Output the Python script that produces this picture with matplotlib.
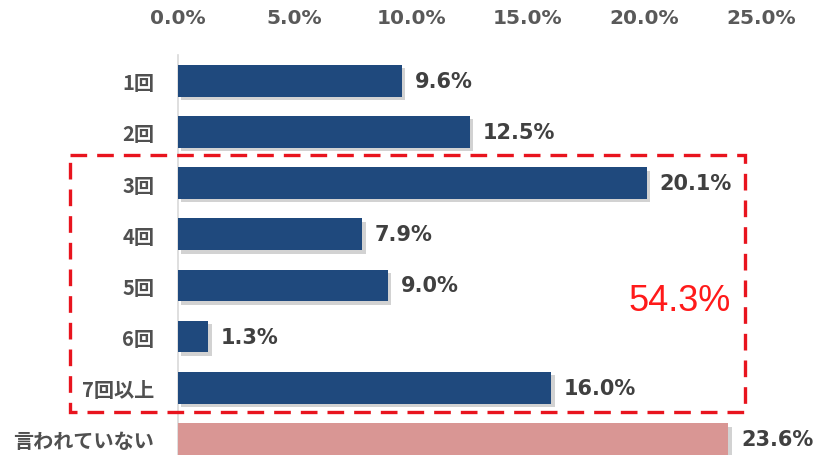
import matplotlib
matplotlib.use("Agg")
import matplotlib.pyplot as plt
import matplotlib.patheffects as pe
from matplotlib.patches import Rectangle

categories = ["1回", "2回", "3回", "4回", "5回", "6回", "7回以上", "言われていない"]
values = [9.6, 12.5, 20.1, 7.9, 9.0, 1.3, 16.0, 23.6]
bar_colors = ["#1f497d"] * 7 + ["#d99694"]
xticks = [0, 5, 10, 15, 20, 25]
xtick_labels = ["0.0%", "5.0%", "10.0%", "15.0%", "20.0%", "25.0%"]
group_idx = [2, 3, 4, 5, 6]
group_total = round(sum(values[i] for i in group_idx), 1)

fig = plt.figure(figsize=(8.14, 4.56), dpi=100)
ax = fig.add_axes([178 / 814, -0.021, 583 / 814, 0.898])

ypos = list(range(len(categories)))
bars = ax.barh(ypos, values, height=0.62, color=bar_colors, zorder=3)
for b in bars:
    b.set_path_effects([pe.SimplePatchShadow(offset=(2.5, -2.5), shadow_rgbFace="#808080", alpha=0.35),
                        pe.Normal()])

ax.set_xlim(0, 25)
ax.set_ylim(len(categories) - 0.5, -0.5)

ax.xaxis.tick_top()
ax.set_xticks(xticks)
ax.set_xticklabels(xtick_labels, fontsize=14.5, color="#595959", fontweight="bold",
                   family="DejaVu Sans")
ax.tick_params(axis="x", length=0, pad=20)

ax.set_yticks(ypos)
ax.set_yticklabels(categories, fontsize=14.5, color="#505050", fontweight="bold",
                   family=["Noto Sans CJK JP", "DejaVu Sans"])
ax.tick_params(axis="y", length=0, pad=17)

for s in ["top", "right", "bottom"]:
    ax.spines[s].set_visible(False)
ax.spines["left"].set_color("#d9d9d9")
ax.spines["left"].set_linewidth(1.2)

for y, v in zip(ypos, values):
    ax.text(v + 0.55, y, f"{v:.1f}%", va="center", ha="left", fontsize=15,
            color="#404040", fontweight="bold", family="DejaVu Sans", zorder=4)

rect = Rectangle((-4.63, 1.45), 28.95, 5.02, fill=False, edgecolor="#e8141e",
                 linewidth=2.4, linestyle=(0, (5, 3)), clip_on=False, zorder=5)
ax.add_patch(rect)

ax.text(23.7, 4.3, f"{group_total:.1f}%", ha="right", va="center", fontsize=26,
        color="#ff1a1a", family="Liberation Sans", zorder=5)

fig.savefig("out.png", dpi=100)
